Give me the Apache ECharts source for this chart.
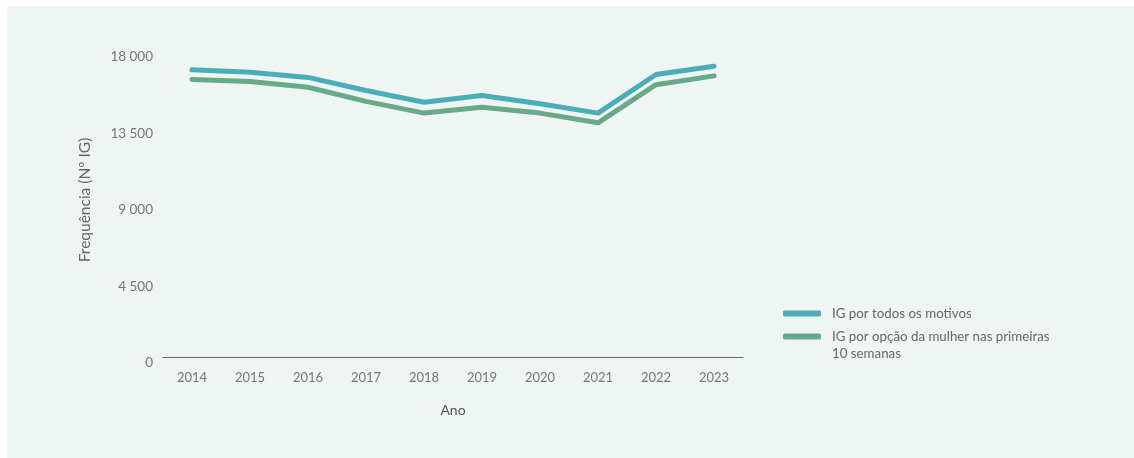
<!DOCTYPE html>
<html>
<head>
<meta charset="utf-8">
<script src="https://cdn.jsdelivr.net/npm/echarts@6/dist/echarts.min.js"></script>
<style>
  html, body { margin: 0; padding: 0; background: #ffffff; }
  #panel { position: absolute; left: 7px; top: 6px; right: 0; bottom: 0; background: #eff5f3; }
  #chart { position: absolute; left: 0; top: 0; width: 1134px; height: 458px; }
</style>
</head>
<body>
<div id="panel"></div>
<div id="chart"></div>
<script>
// Interrupções da gravidez (IG) por ano
const years = ['2014', '2015', '2016', '2017', '2018', '2019', '2020', '2021', '2022', '2023'];
const igTodosMotivos = [17250, 17100, 16800, 16030, 15340, 15740, 15250, 14700, 16970, 17460];
const igOpcaoMulher = [16680, 16560, 16220, 15390, 14700, 15050, 14700, 14130, 16370, 16890];
const seriesNames = ['IG por todos os motivos', 'IG por opção da mulher nas primeiras\n10 semanas'];

const fontFamily = 'Lato, "Open Sans", sans-serif';
const chart = echarts.init(document.getElementById('chart'), null, { renderer: 'canvas' });

const fmt = v => String(Math.round(v)).replace(/\B(?=(\d{3})+(?!\d))/g, ' ');

// Legend text: each line as a rich token; multi-line names get a blank
// leading line so the swatch sits level with the first line of text.
const legendFormatter = name => {
  const lines = name.split('\n').map(l => '{t|' + l + '}');
  if (lines.length > 1) lines.unshift('{t| }');
  return lines.join('\n');
};
const legendText = {
  color: '#666', fontSize: 13.3, fontFamily: fontFamily,
  rich: { t: { color: '#666', fontSize: 13.3, lineHeight: 17, padding: [0, 0, 0, 6], fontFamily: fontFamily } }
};

chart.setOption({
  backgroundColor: 'transparent',
  animation: false,
  textStyle: { fontFamily: fontFamily },
  grid: { left: 163, right: 391, top: 57, bottom: 95, containLabel: false },
  legend: [
    {
      data: [seriesNames[0]],
      orient: 'vertical',
      left: 778, top: 302,
      padding: 5,
      icon: 'roundRect',
      itemWidth: 38, itemHeight: 6,
      formatter: legendFormatter,
      textStyle: legendText
    },
    {
      data: [seriesNames[1]],
      orient: 'vertical',
      left: 778, top: 308,
      padding: 5,
      icon: 'roundRect',
      itemWidth: 38, itemHeight: 6,
      formatter: legendFormatter,
      textStyle: legendText
    }
  ],
  xAxis: {
    type: 'category',
    data: years,
    boundaryGap: true,
    offset: -6,
    name: 'Ano',
    nameLocation: 'middle',
    nameGap: 46,
    nameTextStyle: { color: '#555', fontSize: 14, fontFamily: fontFamily },
    axisLine: { show: true, lineStyle: { color: '#6b6b6b', width: 1 } },
    axisTick: { show: false },
    axisLabel: { color: '#777', fontSize: 13, margin: 14, fontFamily: fontFamily },
    splitLine: { show: false }
  },
  yAxis: {
    type: 'value',
    min: 0, max: 18000, interval: 4500,
    name: 'Frequência (Nº IG)',
    nameLocation: 'middle',
    nameGap: 70,
    nameRotate: 90,
    nameTextStyle: { color: '#666', fontSize: 15.5, padding: [0, 0, 0, 20], fontFamily: fontFamily },
    axisLine: { show: false },
    axisTick: { show: false },
    splitLine: { show: false },
    axisLabel: { color: '#777', fontSize: 13.5, margin: 10, formatter: fmt, fontFamily: fontFamily }
  },
  series: [
    {
      name: seriesNames[0],
      type: 'line',
      data: igTodosMotivos,
      symbol: 'none',
      color: '#4aaeb8',
      lineStyle: { width: 5, color: '#4aaeb8', cap: 'round', join: 'round' },
      z: 3
    },
    {
      name: seriesNames[1],
      type: 'line',
      data: igOpcaoMulher,
      symbol: 'none',
      color: '#68a987',
      lineStyle: { width: 5, color: '#68a987', cap: 'round', join: 'round' },
      z: 2
    }
  ]
});
</script>
</body>
</html>
